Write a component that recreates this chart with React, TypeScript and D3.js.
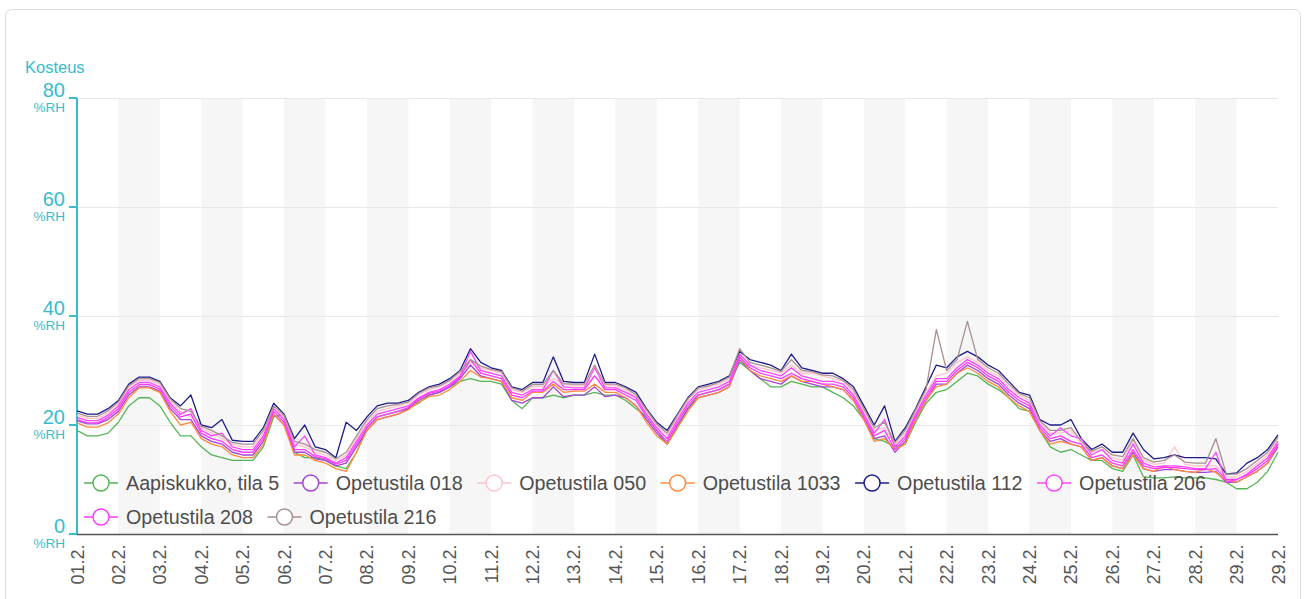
import React, { useEffect, useRef } from "react";
import * as d3 from "d3";

const W = 1308;
const H = 599;

// x-axis labels (one per day, last one at the end of the month as in the original)
const dayLabels = [
  "01.2.", "02.2.", "03.2.", "04.2.", "05.2.", "06.2.", "07.2.", "08.2.", "09.2.", "10.2.",
  "11.2.", "12.2.", "13.2.", "14.2.", "15.2.", "16.2.", "17.2.", "18.2.", "19.2.", "20.2.",
  "21.2.", "22.2.", "23.2.", "24.2.", "25.2.", "26.2.", "27.2.", "28.2.", "29.2.", "29.2.",
];
const yTicks = [0, 20, 40, 60, 80];

const seriesNames = [
  "Aapiskukko, tila 5",
  "Opetustila 018",
  "Opetustila 050",
  "Opetustila 1033",
  "Opetustila 112",
  "Opetustila 206",
  "Opetustila 208",
  "Opetustila 216",
];
const seriesColors = [
  "#55b555",
  "#a444d4",
  "#ffc4cc",
  "#ff8c3c",
  "#1c1c8a",
  "#ff44ff",
  "#ff38ff",
  "#a89090",
];

// relative humidity (%RH), one sample every 6 hours, 01.2. 00:00 -> 01.3. 00:00
const aapiskukko = [
  19.0, 18.0, 18.0, 18.5, 20.5, 23.5, 25.0, 25.0, 23.5, 20.5, 18.0, 18.0, 16.0, 14.5, 14.0, 13.5,
  13.5, 13.5, 16.0, 21.5, 22.0, 15.0, 14.0, 14.0, 13.5, 12.5, 12.0, 15.0, 19.5, 21.5, 22.0, 22.5,
  23.0, 24.0, 25.5, 26.0, 27.0, 28.0, 28.5, 28.0, 28.0, 27.5, 24.5, 23.0, 25.0, 25.0, 25.5, 25.0,
  25.5, 25.5, 26.0, 25.5, 25.5, 24.5, 23.0, 21.5, 19.0, 16.5, 19.5, 23.0, 25.5, 26.0, 26.5, 27.5,
  31.5, 30.0, 28.5, 27.0, 27.0, 28.0, 27.5, 27.0, 27.0, 26.0, 25.0, 23.5, 21.0, 17.5, 17.0, 16.0,
  16.5, 20.5, 24.0, 26.0, 26.5, 28.0, 29.5, 29.0, 27.5, 26.5, 25.0, 23.0, 22.5, 19.0, 16.0, 15.0,
  15.5, 14.5, 13.5, 13.5, 12.0, 11.5, 14.5, 10.5, 10.3, 10.3, 10.5, 10.3, 10.3, 10.3, 10.0, 9.5,
  8.3, 8.3, 9.5, 11.5, 15.0,
];
const opetustila018 = [
  20.8, 20.2, 20.2, 21.0, 22.5, 25.5, 27.0, 27.0, 26.2, 23.0, 21.0, 21.0, 18.0, 17.0, 16.5, 15.0,
  14.5, 14.5, 17.0, 22.0, 20.0, 15.0, 15.0, 13.8, 13.5, 12.5, 13.0, 16.0, 19.0, 21.0, 21.5, 22.0,
  23.0, 24.5, 25.5, 26.0, 27.0, 28.5, 31.0, 29.0, 28.5, 28.0, 24.5, 24.0, 25.0, 25.0, 27.0, 25.2,
  25.5, 25.5, 27.0, 25.2, 25.5, 25.0, 23.5, 21.0, 18.5, 16.5, 20.0, 23.0, 25.0, 25.5, 26.0, 27.0,
  32.0, 30.0, 28.5, 28.0, 27.5, 29.0, 28.0, 27.5, 27.0, 27.0, 26.5, 24.5, 21.0, 17.5, 18.0, 15.0,
  17.0, 21.0, 24.5, 27.5, 27.5, 29.5, 31.0, 30.0, 28.5, 27.5, 25.5, 24.0, 23.0, 19.0, 17.0, 17.5,
  16.5, 16.0, 13.5, 14.0, 12.5, 12.0, 15.0, 12.0, 11.5, 11.8, 11.8, 11.5, 11.3, 11.3, 11.5, 9.5,
  9.5, 10.5, 11.5, 13.0, 16.0,
];
const opetustila050 = [
  21.8, 21.2, 21.2, 22.2, 23.8, 27.0, 28.2, 28.2, 27.5, 24.5, 22.5, 21.5, 19.5, 18.5, 17.5, 16.5,
  16.0, 16.0, 18.5, 23.0, 21.5, 16.5, 16.0, 15.0, 14.5, 13.5, 14.5, 17.5, 20.5, 22.5, 23.0, 23.5,
  24.0, 25.5, 26.5, 27.0, 28.0, 29.5, 31.5, 30.5, 30.0, 29.5, 26.5, 26.0, 27.0, 27.0, 28.5, 27.5,
  27.2, 27.2, 29.0, 27.2, 27.2, 26.5, 25.0, 22.5, 20.0, 18.0, 21.5, 24.5, 26.5, 27.0, 27.5, 28.5,
  33.0, 31.0, 30.5, 30.0, 29.5, 31.0, 29.5, 29.5, 29.0, 28.5, 28.0, 26.0, 22.5, 19.0, 19.5, 16.5,
  18.5, 22.5, 26.0, 29.0, 29.5, 31.5, 32.5, 31.5, 30.0, 29.0, 27.0, 25.5, 24.5, 20.5, 18.5, 18.5,
  19.0, 16.5, 15.0, 15.5, 14.0, 13.5, 17.0, 13.5, 12.8, 13.0, 16.0, 12.8, 12.5, 12.5, 12.5, 10.5,
  10.5, 11.5, 13.0, 14.5, 17.5,
];
const opetustila1033 = [
  20.4, 19.6, 19.6, 20.4, 22.0, 25.0, 26.8, 26.8, 26.0, 22.5, 20.0, 20.5, 17.5, 16.5, 16.0, 14.5,
  14.0, 14.0, 16.5, 22.0, 20.0, 14.5, 14.5, 13.5, 13.0, 12.0, 11.5, 15.0, 19.0, 21.0, 21.5, 22.0,
  22.8, 24.2, 25.2, 25.5, 26.5, 28.0, 30.0, 28.8, 28.5, 28.0, 25.0, 24.5, 26.0, 26.0, 27.5, 26.0,
  26.2, 26.2, 27.5, 26.0, 26.0, 25.0, 23.5, 20.5, 18.0, 16.5, 19.5, 22.5, 25.0, 25.5, 26.0, 27.0,
  32.5, 30.0, 29.0, 28.5, 28.0, 29.0, 28.0, 28.0, 27.5, 27.0, 26.5, 24.5, 21.0, 17.0, 17.5, 15.5,
  16.5, 21.0, 24.5, 27.0, 27.5, 29.5, 30.5, 29.5, 28.0, 27.0, 25.0, 23.5, 22.5, 19.0, 16.5, 17.0,
  16.5, 16.0, 13.5, 14.0, 12.5, 12.0, 14.5, 12.0, 11.5, 12.5, 11.8, 11.5, 11.3, 12.0, 11.3, 9.8,
  9.5, 10.5, 11.5, 13.0, 16.5,
];
const opetustila112 = [
  22.6, 22.0, 22.0, 23.0, 24.5, 27.5, 28.8, 28.8, 28.0, 25.0, 23.5, 25.5, 20.0, 19.5, 21.0, 17.2,
  17.0, 17.0, 19.5, 24.0, 22.0, 17.5, 20.0, 16.0, 15.5, 14.0, 20.5, 19.0, 21.5, 23.5, 24.0, 24.0,
  24.5, 26.0, 27.0, 27.5, 28.5, 30.0, 34.0, 31.5, 30.5, 30.0, 27.0, 26.5, 27.8, 27.8, 32.5, 28.0,
  27.8, 27.8, 33.0, 27.8, 27.8, 27.0, 26.0, 23.0, 20.5, 19.0, 22.0, 25.0, 27.0, 27.5, 28.0, 29.0,
  33.5, 32.0, 31.5, 31.0, 30.0, 33.0, 30.5, 30.0, 29.5, 29.5, 28.5, 27.0, 23.5, 20.0, 23.5, 17.0,
  19.5, 23.0, 27.0, 31.0, 30.5, 32.5, 33.5, 32.5, 31.0, 30.0, 28.0, 26.0, 25.5, 21.0, 20.0, 20.0,
  21.0, 17.5, 15.5, 16.5, 15.0, 15.0, 18.5, 15.5, 13.8, 14.0, 14.5, 14.0, 14.0, 14.0, 13.8, 11.0,
  11.2, 13.0, 14.0, 15.5, 18.2,
];
const opetustila206 = [
  21.4, 20.8, 20.8, 21.8, 23.5, 26.5, 27.8, 27.8, 27.0, 24.0, 22.0, 23.0, 19.0, 18.0, 18.5, 16.0,
  15.5, 15.5, 18.0, 23.0, 21.0, 16.0, 18.0, 14.5, 14.0, 13.0, 14.0, 17.0, 20.0, 22.0, 22.5, 23.0,
  23.5, 25.0, 26.0, 26.5, 27.5, 29.0, 33.5, 30.0, 29.5, 29.0, 26.0, 25.5, 26.5, 26.5, 30.0, 27.0,
  26.8, 26.8, 30.5, 26.8, 26.8, 26.0, 25.0, 22.0, 19.5, 17.5, 21.0, 24.0, 26.0, 26.5, 27.0, 28.0,
  33.0, 31.0, 30.0, 29.5, 29.0, 30.5, 29.0, 28.5, 28.0, 28.0, 27.5, 25.5, 22.0, 18.5, 21.0, 16.0,
  18.0, 22.0, 25.5, 28.5, 28.5, 30.5, 32.0, 31.0, 29.5, 28.5, 26.5, 25.0, 24.0, 20.0, 18.0, 19.5,
  18.0, 17.5, 14.5, 15.5, 13.5, 13.0, 16.5, 13.0, 12.3, 12.5, 12.5, 12.3, 12.0, 12.0, 15.0, 9.5,
  10.0, 11.0, 12.5, 14.0, 17.0,
];
const opetustila208 = [
  21.0, 20.4, 20.4, 21.4, 23.0, 26.0, 27.4, 27.4, 26.6, 23.5, 21.5, 22.0, 18.5, 17.5, 17.0, 15.5,
  15.0, 15.0, 17.5, 22.5, 20.5, 15.5, 15.5, 14.2, 13.8, 12.8, 13.5, 16.5, 19.5, 21.5, 22.0, 22.5,
  23.2, 24.8, 25.8, 26.2, 27.2, 28.8, 32.0, 29.5, 29.0, 28.5, 25.5, 25.0, 26.2, 26.2, 28.0, 26.5,
  26.5, 26.5, 29.0, 26.5, 26.5, 25.5, 24.5, 21.5, 19.0, 17.0, 20.5, 23.5, 25.5, 26.0, 26.5, 27.5,
  32.5, 30.5, 29.5, 29.0, 28.5, 29.5, 28.5, 28.0, 27.5, 27.5, 27.0, 25.0, 21.5, 18.0, 19.0, 15.5,
  17.5, 21.5, 25.0, 28.0, 28.0, 30.0, 31.5, 30.5, 29.0, 28.0, 26.0, 24.5, 23.5, 19.5, 17.5, 18.0,
  17.0, 16.5, 14.0, 14.5, 13.0, 12.5, 15.5, 12.5, 12.0, 12.2, 12.2, 12.0, 11.8, 11.8, 12.0, 10.0,
  10.0, 10.8, 12.0, 13.5, 16.5,
];
const opetustila216 = [
  22.2, 21.6, 21.6, 22.6, 24.2, 27.2, 28.5, 28.5, 27.8, 24.8, 23.0, 22.5, 19.8, 19.0, 18.0, 16.8,
  16.5, 16.5, 19.0, 23.5, 21.8, 17.0, 16.5, 15.5, 15.0, 13.8, 15.0, 18.0, 21.0, 23.0, 23.5, 23.8,
  24.2, 25.8, 26.8, 27.2, 28.2, 29.8, 32.0, 30.8, 30.2, 29.8, 26.8, 26.2, 27.4, 27.4, 30.0, 27.6,
  27.5, 27.5, 31.0, 27.5, 27.5, 26.8, 25.5, 22.8, 20.2, 18.5, 21.8, 24.8, 26.8, 27.2, 27.8, 28.8,
  34.0, 31.5, 31.0, 30.5, 29.8, 32.0, 30.0, 29.8, 29.2, 29.0, 28.2, 26.5, 23.0, 19.5, 20.5, 16.8,
  19.0, 22.8, 26.5, 37.5, 30.0, 32.0, 39.0, 32.0, 30.5, 29.5, 27.5, 25.8, 25.0, 20.8, 19.0, 19.0,
  19.5, 17.0, 15.2, 16.0, 14.5, 14.2, 17.5, 14.0, 13.2, 13.5, 14.5, 13.2, 13.0, 13.0, 17.5, 11.0,
  11.0, 12.0, 13.5, 15.0, 17.8,
];

const seriesValues = [
  aapiskukko,
  opetustila018,
  opetustila050,
  opetustila1033,
  opetustila112,
  opetustila206,
  opetustila208,
  opetustila216,
];

const STEP_HOURS = 6;
const TOTAL_HOURS = 29 * 24;

const TEAL = "#38bccb";
const FONT = "'Liberation Sans', Arial, Helvetica, sans-serif";

export default function App() {
  const ref = useRef<SVGSVGElement>(null);

  useEffect(() => {
    const svg = d3.select(ref.current);
    svg.selectAll("*").remove();

    const left = 77;
    const right = 1278;
    const top = 98;
    const bottom = 534;

    const x = d3.scaleLinear().domain([0, TOTAL_HOURS]).range([left, right]);
    const y = d3.scaleLinear().domain([0, 80]).range([bottom, top]);

    // card
    svg
      .append("rect")
      .attr("x", 5.5)
      .attr("y", 9.5)
      .attr("width", 1295)
      .attr("height", 720)
      .attr("rx", 6)
      .attr("fill", "#fff")
      .attr("stroke", "#dcdcdc");

    // alternating day bands
    const bands = svg.append("g");
    for (let i = 1; i < 29; i += 2) {
      bands
        .append("rect")
        .attr("x", x(i * 24))
        .attr("y", top)
        .attr("width", x((i + 1) * 24) - x(i * 24))
        .attr("height", bottom - top)
        .attr("fill", "#f6f6f6");
    }

    // grid lines
    svg
      .append("g")
      .selectAll("line")
      .data(yTicks.filter((t) => t > 0))
      .join("line")
      .attr("x1", left)
      .attr("x2", right)
      .attr("y1", (d) => y(d) + 0.5)
      .attr("y2", (d) => y(d) + 0.5)
      .attr("stroke", "#e8e8e8")
      .attr("stroke-width", 1);

    // axis title
    svg
      .append("text")
      .attr("x", 25)
      .attr("y", 73)
      .attr("fill", TEAL)
      .attr("font-family", FONT)
      .attr("font-size", 16.5)
      .text("Kosteus");

    // y axis
    const ya = svg.append("g");
    ya.append("line")
      .attr("x1", left)
      .attr("x2", left)
      .attr("y1", top)
      .attr("y2", bottom)
      .attr("stroke", TEAL)
      .attr("stroke-width", 2);
    const yt = ya.selectAll("g.tick").data(yTicks).join("g").attr("class", "tick");
    yt.append("line")
      .attr("x1", 69)
      .attr("x2", left)
      .attr("y1", (d) => y(d))
      .attr("y2", (d) => y(d))
      .attr("stroke", TEAL)
      .attr("stroke-width", 2);
    yt.append("text")
      .attr("x", 65)
      .attr("y", (d) => y(d) - 1.5)
      .attr("text-anchor", "end")
      .attr("fill", TEAL)
      .attr("font-family", FONT)
      .attr("font-size", 20)
      .text((d) => String(d));
    yt.append("text")
      .attr("x", 65)
      .attr("y", (d) => y(d) + 13.5)
      .attr("text-anchor", "end")
      .attr("fill", TEAL)
      .attr("font-family", FONT)
      .attr("font-size", 13.5)
      .text("%RH");

    // x axis
    svg
      .append("line")
      .attr("x1", left)
      .attr("x2", right)
      .attr("y1", bottom + 0.5)
      .attr("y2", bottom + 0.5)
      .attr("stroke", "#555")
      .attr("stroke-width", 1.5);
    svg
      .append("g")
      .selectAll("text")
      .data(dayLabels)
      .join("text")
      .attr("transform", (_d, i) => `translate(${x(i * 24) + 6.5},${bottom + 10.5}) rotate(-90)`)
      .attr("text-anchor", "end")
      .attr("fill", "#555")
      .attr("font-family", FONT)
      .attr("font-size", 18)
      .text((d) => d);

    // lines
    const line = d3
      .line<number>()
      .x((_d, i) => x(i * STEP_HOURS))
      .y((d) => y(d))
      .curve(d3.curveLinear);
    const lg = svg.append("g");
    seriesValues.forEach((vals, si) => {
      lg.append("path")
        .attr("d", line(vals) as string)
        .attr("fill", "none")
        .attr("stroke", seriesColors[si])
        .attr("stroke-width", 1.3)
        .attr("stroke-linejoin", "round");
    });

    // legend
    const leg = svg.append("g");
    let lx = 84;
    let row = 0;
    const rowY = [483, 517];
    seriesNames.forEach((name, si) => {
      const g = leg.append("g");
      const t = g
        .append("text")
        .attr("fill", "#4d4d4d")
        .attr("font-family", FONT)
        .attr("font-size", 19.7)
        .text(name);
      const tw = (t.node() as SVGTextElement).getComputedTextLength();
      const itemW = 42 + tw;
      if (lx + itemW > right + 5 && lx > 84) {
        row += 1;
        lx = 84;
      }
      const cy = rowY[row] ?? rowY[rowY.length - 1] + 34 * (row - 1);
      g.append("line")
        .attr("x1", lx)
        .attr("x2", lx + 34)
        .attr("y1", cy)
        .attr("y2", cy)
        .attr("stroke", seriesColors[si])
        .attr("stroke-width", 1.5);
      g.append("circle")
        .attr("cx", lx + 17)
        .attr("cy", cy)
        .attr("r", 8)
        .attr("fill", "#fff")
        .attr("stroke", seriesColors[si])
        .attr("stroke-width", 1.5);
      t.attr("x", lx + 42).attr("y", cy + 6.5).raise();
      lx += itemW + 14.5;
    });
  }, []);

  return (
    <div style={{ position: "absolute", left: 0, top: 0 }}>
      <svg ref={ref} width={W} height={H} style={{ display: "block" }} />
    </div>
  );
}
